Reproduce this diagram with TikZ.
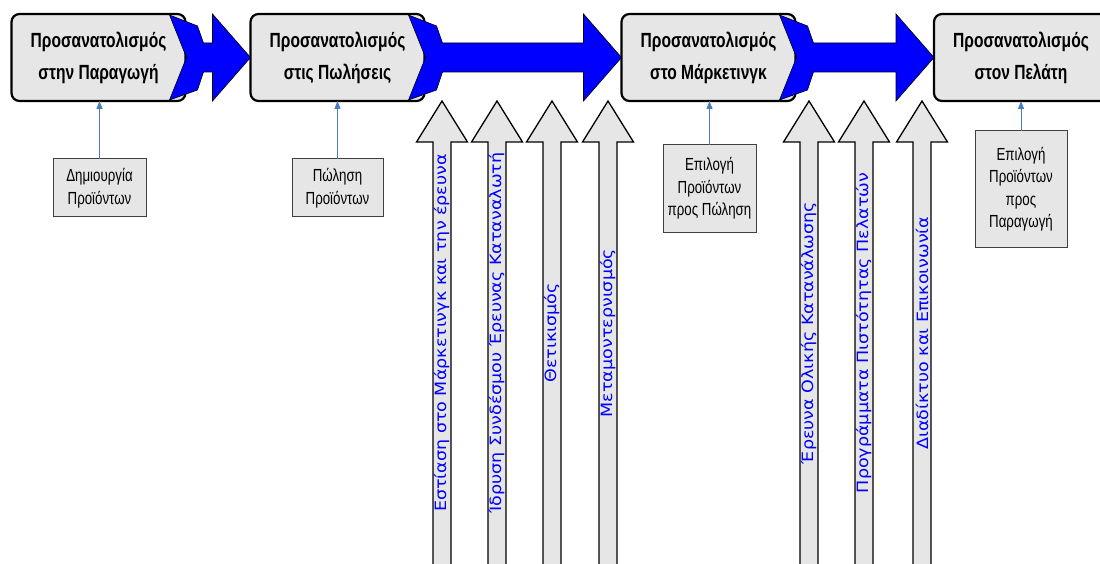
\documentclass[tikz,border=0pt]{standalone}
\usepackage{fontspec}
\usetikzlibrary{calc,arrows.meta}
\newfontfamily\narrowsans[FakeStretch=0.76]{Liberation Sans}
\newfontfamily\railsans[FakeStretch=1.13]{DejaVu Sans}
\definecolor{panelgray}{RGB}{230,230,230}
\definecolor{flowblue}{RGB}{0,0,255}
\definecolor{linkblue}{RGB}{74,126,187}
\definecolor{notegray}{RGB}{64,64,64}

\tikzset{
  stage/.style={draw=black, line width=2.2pt, rounded corners=8pt, fill=panelgray,
    minimum width=174pt, minimum height=87pt, outer sep=0pt, inner sep=0pt,
    align=center, font=\narrowsans\bfseries\fontsize{20.5}{32}\selectfont},
  note/.style={draw=notegray, line width=1pt, fill=panelgray, outer sep=0pt,
    inner sep=0pt, align=center, font=\narrowsans\fontsize{17.5}{22.5}\selectfont},
  flow/.style={fill=flowblue, draw=black, line width=0.6pt, line join=miter},
  link/.style={draw=linkblue, line width=1pt, -{Triangle[length=8pt,width=6pt]}},
  lift/.style={fill=panelgray, draw=black, line width=1.3pt},
  lifttext/.style={rotate=90, text=flowblue, inner sep=0pt,
    font=\railsans\fontsize{15.5}{15.5}\selectfont},
}

% block arrow joining two stages: flared tail inside the first, head on the second
\newcommand\stageflow[2]{%
  \draw[flow] ($(#1.east)+(-16,-42.5)$) -- ($(#1.east)+(12,-31.5)$)
    -- ($(#1.east)+(18,-14.5)$) -- ($(#2.west)+(-38,-14.5)$)
    -- ($(#2.west)+(-38,-43.5)$) -- (#2.west) -- ($(#2.west)+(-38,43.5)$)
    -- ($(#2.west)+(-38,14.5)$) -- ($(#1.east)+(18,14.5)$)
    -- ($(#1.east)+(12,32.5)$) -- ($(#1.east)+(-16,42.5)$)
    -- ($(#1.east)+(1,0)$) -- cycle;}

% upward grey block arrow with its label running along the shaft
\newcommand\liftarrow[3]{%
  \draw[lift] (#2-9,580) -- (#2-9,142) -- (#2-25.5,142) -- (#2,101)
    -- (#2+25.5,142) -- (#2+9,142) -- (#2+9,580) -- cycle;
  \node[lifttext] (#1) at (#2,333) {#3};}

\begin{document}
\begin{tikzpicture}[x=1pt,y=-1pt]
\useasboundingbox (0,0) rectangle (1100,564);
\fill[white] (0,0) rectangle (1100,564);

% stages
\node[stage] (s1) at (98.5,57.5)  {Προσανατολισμός\\στην Παραγωγή};
\node[stage] (s2) at (337.5,57.5) {Προσανατολισμός\\στις Πωλήσεις};
\node[stage] (s3) at (708.5,57.5) {Προσανατολισμός\\στο Μάρκετινγκ};
\node[stage] (s4) at (1021,57.5)  {Προσανατολισμός\\στον Πελάτη};

\stageflow{s1}{s2}
\stageflow{s2}{s3}
\stageflow{s3}{s4}

% notes under the stages
\node[note, minimum width=93pt, minimum height=58pt]  (n1) at (99.5,188)   {Δημιουργία\\Προϊόντων};
\node[note, minimum width=91pt, minimum height=58pt]  (n2) at (337.5,188)  {Πώληση\\Προϊόντων};
\node[note, minimum width=93pt, minimum height=87pt]  (n3) at (709.5,188.5) {Επιλογή\\Προϊόντων\\προς Πώληση};
\node[note, minimum width=92pt, minimum height=116pt] (n4) at (1021,189)   {Επιλογή\\Προϊόντων\\προς\\Παραγωγή};

\draw[link] (n1.north) -- (n1.north |- s1.south);
\draw[link] (n2.north) -- (n2.north |- s2.south);
\draw[link] (n3.north) -- (n3.north |- s3.south);
\draw[link] (n4.north) -- (n4.north |- s4.south);

% supporting practices
\liftarrow{p1}{442}{Εστίαση στο Μάρκετινγκ και την έρευνα}
\liftarrow{p2}{497}{Ίδρυση Συνδέσμου Έρευνας Καταναλωτή}
\liftarrow{p3}{552}{Θετικισμός}
\liftarrow{p4}{608}{Μεταμοντερνισμός}
\liftarrow{p5}{809}{Έρευνα Ολικής Κατανάλωσης}
\liftarrow{p6}{864}{Προγράμματα Πιστότητας Πελατών}
\liftarrow{p7}{922}{Διαδίκτυο και Επικοινωνία}
\end{tikzpicture}
\end{document}
